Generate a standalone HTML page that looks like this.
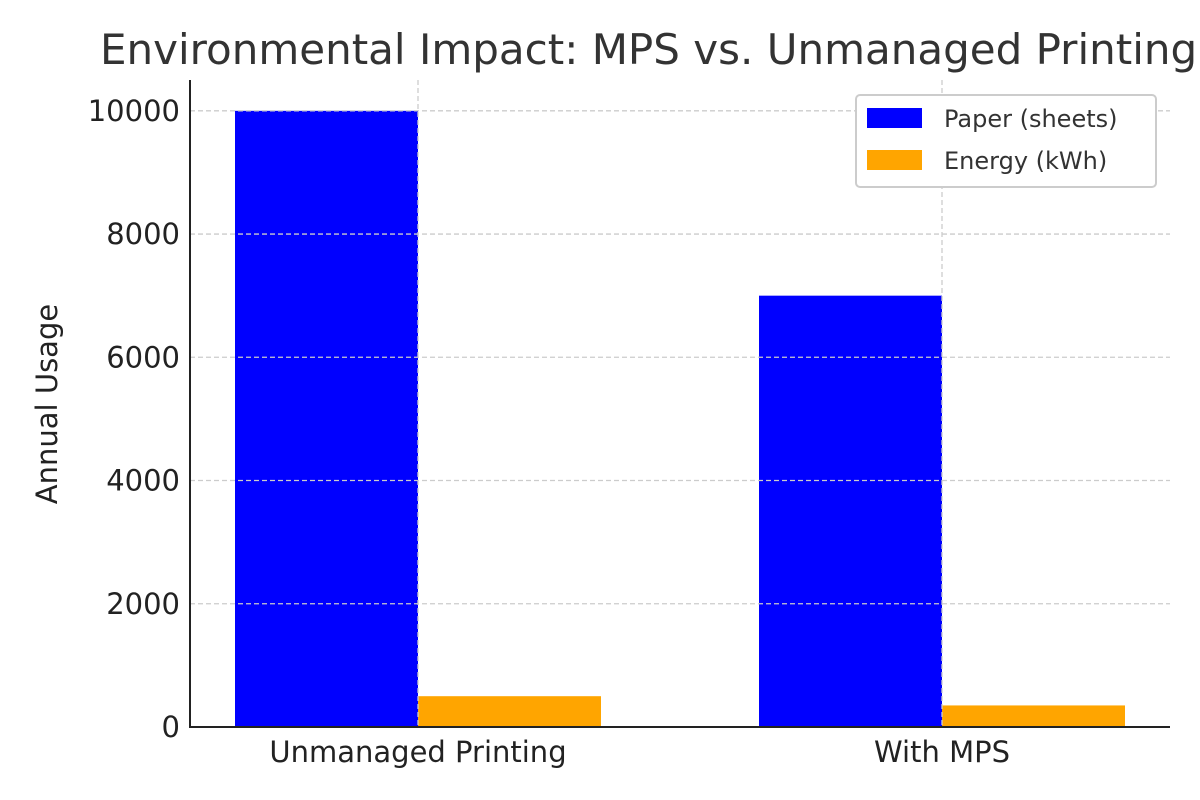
<!DOCTYPE html>
<html><head><meta charset="utf-8"><style>
body{margin:0;background:#fff}
svg{display:block;font-family:"DejaVu Sans","Liberation Sans",sans-serif}
</style></head><body>
<svg id="chart" width="1200" height="800">
<text x="100" y="64" font-size="42" fill="#333">Environmental Impact: MPS vs. Unmanaged Printing</text>
<text transform="translate(57,404) rotate(-90)" text-anchor="middle" font-size="29" fill="#222">Annual Usage</text>
<g id="bars"></g>
<g id="grid"></g>
<g id="axes"></g>
<g>
<rect x="856" y="95" width="300" height="92" rx="4" fill="#fff" stroke="#ccc" stroke-width="2"/>
<rect x="867" y="108" width="55" height="20" fill="#0000ff"/>
<text x="944" y="127" font-size="24" fill="#333">Paper (sheets)</text>
<rect x="867" y="150" width="55" height="20" fill="#ffa500"/>
<text x="944" y="169" font-size="24" fill="#333">Energy (kWh)</text>
</g>
</svg>
<script>
const categories=["Unmanaged Printing","With MPS"];
const paperValues=[10000,7000];
const energyValues=[500,350];
const yTicks=[0,2000,4000,6000,8000,10000];
const NS="http://www.w3.org/2000/svg";
const L=190,R=1170,B=727,T=80,yMax=10500;
const y=v=>B-(v/yMax)*(B-T);
const xc=i=>418+i*524;
const bw=183;
function mk(g,tag,attrs){const e=document.createElementNS(NS,tag);for(const k in attrs)e.setAttribute(k,attrs[k]);document.getElementById(g).appendChild(e);return e;}
categories.forEach((c,i)=>{
 let r=mk('bars','rect',{x:xc(i)-bw,y:y(paperValues[i]),width:bw,height:B-y(paperValues[i]),fill:'#0000ff'});
 
 
 r=mk('bars','rect',{x:xc(i),y:y(energyValues[i]),width:bw,height:B-y(energyValues[i]),fill:'#ffa500'});
 
 
 let g=mk('grid','line',{x1:xc(i),x2:xc(i),y1:T,y2:B,stroke:'#ccc','stroke-width':1.3,'stroke-dasharray':'5,3'});
 
 
 let t=mk('axes','text',{x:xc(i),y:762,'text-anchor':'middle','font-size':29,fill:'#222'});
 t.textContent=c;
 
 
});
yTicks.forEach(v=>{
 if(v>0){let g=mk('grid','line',{x1:L,x2:R,y1:y(v),y2:y(v),stroke:'#ccc','stroke-width':1.3,'stroke-dasharray':'5,3'});
 
 }
 let t=mk('axes','text',{x:180,y:y(v)+10,'text-anchor':'end','font-size':29,fill:'#222'});
 t.textContent=v;
 
 
});
let a=mk('axes','line',{x1:L,x2:L,y1:T,y2:B+1,stroke:'#222','stroke-width':2});


a=mk('axes','line',{x1:L-1,x2:R,y1:B,y2:B,stroke:'#222','stroke-width':2});


</script>
</body></html>
